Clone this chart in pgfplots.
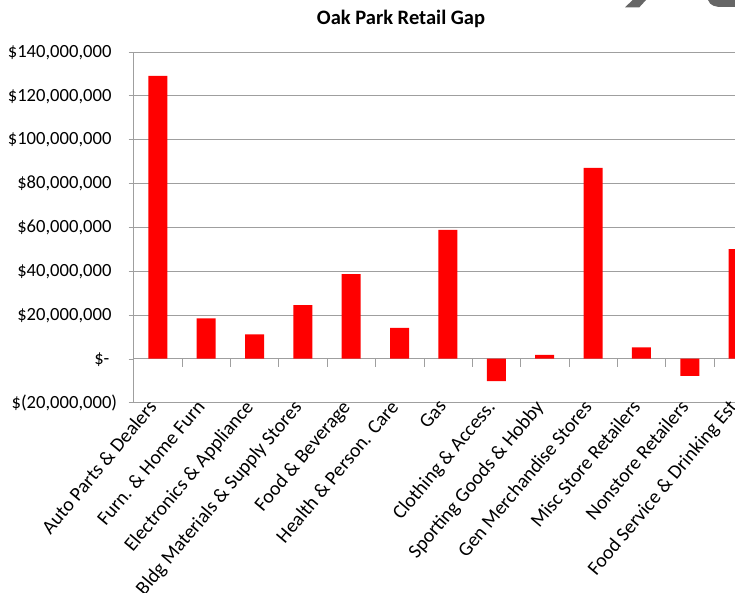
\documentclass[border=0pt]{standalone}
\usepackage{pgfplots}
\pgfplotsset{compat=1.18}
\usepackage{fontspec}
\setmainfont{Carlito}
\newcommand{\lblfont}{\fontsize{18.6}{21}\selectfont}
\newcommand{\xlblfont}{\fontsize{19.8}{22}\selectfont}
\begin{document}
\begin{tikzpicture}[x=1pt,y=1pt]
\begin{axis}[
  at={(133.6pt,189.5pt)}, anchor=south west,
  scale only axis, width=628.7pt, height=350.8pt,
  xmin=-0.5, xmax=12.5, ymin=-20000000, ymax=140000000,
  enlargelimits=false,
  scaled y ticks=false,
  axis x line*=bottom, axis y line*=left,
  axis line style={gray!75,-},
  ybar, bar width=19pt,
  xtick={0,1,2,3,4,5,6,7,8,9,10,11,12},
  xticklabels={Auto Parts \& Dealers, Furn. \& Home Furn, Electronics \& Appliance, Bldg Materials \& Supply Stores, Food \& Beverage, Health \& Person. Care, Gas, Clothing \& Access., Sporting Goods \& Hobby, Gen Merchandise Stores, Misc Store Retailers, Nonstore Retailers, Food Service \& Drinking Est},
  x tick style={draw=none},
  xticklabel style={rotate=50, anchor=north east, inner sep=0pt, font=\xlblfont, yshift=14pt},
  ytick={-20000000,0,20000000,40000000,60000000,80000000,100000000,120000000,140000000},
  yticklabels={\$(20{,}000{,}000), \$-\hspace{2pt}\phantom{)}, \$20{,}000{,}000\phantom{)}, \$40{,}000{,}000\phantom{)}, \$60{,}000{,}000\phantom{)}, \$80{,}000{,}000\phantom{)}, \$100{,}000{,}000\phantom{)}, \$120{,}000{,}000\phantom{)}, \$140{,}000{,}000\phantom{)}},
  yticklabel style={font=\lblfont, anchor=east, xshift=-8pt},
  y tick style={gray!75},
  tick align=outside, major tick length=5pt,
  ymajorgrids, grid style={gray!75},
  clip=true,
]
\addplot[fill=red, draw=none] coordinates {
  (0,129000000) (1,18400000) (2,11100000) (3,24400000) (4,38600000)
  (5,14000000) (6,58700000) (7,-10200000) (8,1700000) (9,87000000)
  (10,5200000) (11,-7800000) (12,50000000)};
\pgfplotsinvokeforeach{0.5,1.5,2.5,3.5,4.5,5.5,6.5,7.5,8.5,9.5,10.5,11.5}{
  \draw[gray!75] (axis cs:#1,0) -- ++(0pt,-8pt);
}
\end{axis}
\node[font=\bfseries\fontsize{20.5}{23}\selectfont] at (401,573) {Oak Park Retail Gap};
\fill[black!60] (625,584.7) -- (639.3,584.7) -- (646,592) -- (632.7,592) -- cycle;
\fill[black!60] (708,592) .. controls (710,586) and (716,585) .. (722,585) -- (735,585) -- (735,592) -- cycle;
\pgfresetboundingbox
\path[use as bounding box] (0,0) rectangle (735,592);
\end{tikzpicture}
\end{document}
